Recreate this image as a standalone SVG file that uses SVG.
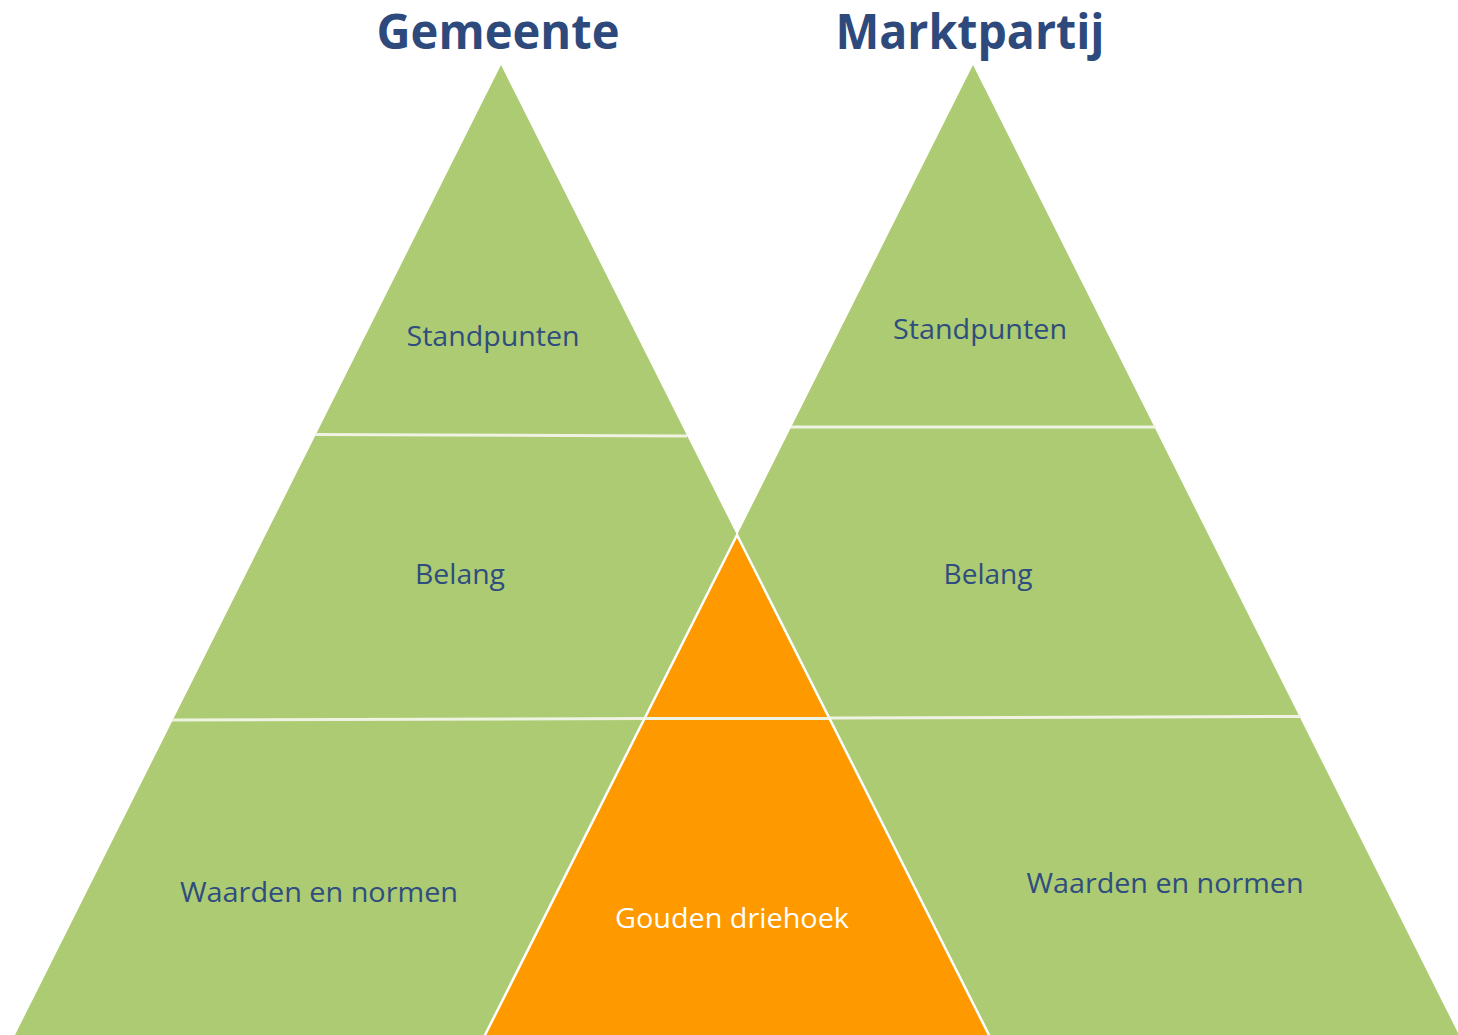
<svg xmlns="http://www.w3.org/2000/svg" width="1458" height="1035" viewBox="0 0 1458 1035">
<style>
.green{fill:#ACCB72;}
.orange{fill:#FF9900;stroke:#FFFFFF;stroke-width:2.5;stroke-linejoin:miter;}
.sep{stroke:#EEF3E2;stroke-width:3;fill:none;}
.lbl{font-family:"Open Sans","Liberation Sans",sans-serif;font-size:28px;fill:#2F4D7E;text-anchor:middle;}
.gold{font-family:"Open Sans","Liberation Sans",sans-serif;font-size:28px;fill:#FFFFFF;text-anchor:middle;}
.title{font-family:"Open Sans","Liberation Sans",sans-serif;font-size:48px;font-weight:bold;fill:#2E4A7D;text-anchor:middle;}
</style>
<rect width="1458" height="1035" fill="#FFFFFF"/>
<g id="gemeente">
<polygon class="green" points="501,65 15,1035 988,1035"/>
<line class="sep" x1="315" y1="434.5" x2="687" y2="436"/>
<line class="sep" x1="172" y1="720" x2="646" y2="718.5"/>
<text class="title" x="498" y="49" textLength="243" lengthAdjust="spacingAndGlyphs">Gemeente</text>
<text class="lbl" x="493" y="346" textLength="173" lengthAdjust="spacingAndGlyphs">Standpunten</text>
<text class="lbl" x="460" y="584" textLength="90" lengthAdjust="spacingAndGlyphs">Belang</text>
<text class="lbl" x="319" y="902" textLength="278" lengthAdjust="spacingAndGlyphs">Waarden en normen</text>
</g>
<g id="marktpartij">
<polygon class="green" points="973,65 486,1035 1459,1035"/>
<line class="sep" x1="791" y1="427" x2="1156" y2="427"/>
<line class="sep" x1="829" y1="718" x2="1301" y2="716.5"/>
<text class="title" x="970" y="49" textLength="269" lengthAdjust="spacingAndGlyphs">Marktpartij</text>
<text class="lbl" x="980" y="339" textLength="174" lengthAdjust="spacingAndGlyphs">Standpunten</text>
<text class="lbl" x="988" y="584" textLength="89" lengthAdjust="spacingAndGlyphs">Belang</text>
<text class="lbl" x="1165" y="893" textLength="277" lengthAdjust="spacingAndGlyphs">Waarden en normen</text>
</g>
<g id="gouden-driehoek">
<polygon class="orange" points="737,535 484,1037 990,1037"/>
<line class="sep" x1="645" y1="718.5" x2="829" y2="718.5" stroke="#FFFFFF"/>
<text class="gold" x="732" y="928" textLength="234" lengthAdjust="spacingAndGlyphs">Gouden driehoek</text>
</g>
<g id="connectors"></g>
</svg>
